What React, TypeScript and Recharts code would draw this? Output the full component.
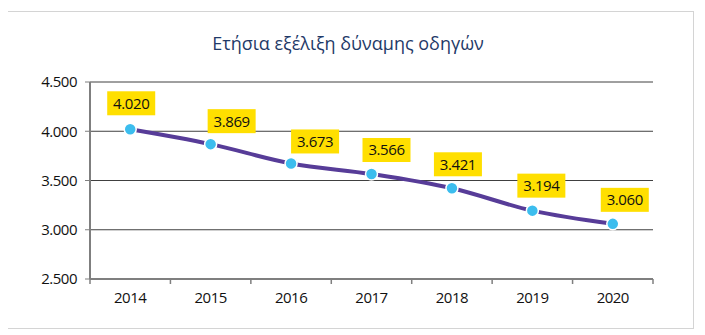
import React from 'react';
import { LineChart, Line, XAxis, YAxis, CartesianGrid, LabelList } from 'recharts';

const years = ['2014', '2015', '2016', '2017', '2018', '2019', '2020'];
const drivers = [4020, 3869, 3673, 3566, 3421, 3194, 3060];
const yTicks = [2500, 3000, 3500, 4000, 4500];

// manual label placement (horizontal shift of box centre from point, gap above point), in px
const labelDx = [1, 21, 24, 15, 6, 9, 12];
const labelGap = [14, 11, 10, 12, 12, 13, 12];

const data = years.map((y, i) => ({ year: y, value: drivers[i] }));

const fmt = (v: number) => v.toLocaleString('de-DE');

const FONT = '"Open Sans", "Noto Sans", sans-serif';

const XTick = (props: any) => {
  const { x, y, payload, index, visibleTicksCount } = props;
  const off = payload && typeof payload.offset === 'number' ? payload.offset : 0;
  const axisY = y - 8;
  return (
    <g>
      <line x1={x - off} x2={x - off} y1={axisY} y2={axisY + 5} stroke="#7f7f7f" strokeWidth={1.5} />
      {index === visibleTicksCount - 1 && (
        <line x1={x + off} x2={x + off} y1={axisY} y2={axisY + 5} stroke="#7f7f7f" strokeWidth={1.5} />
      )}
      <text
        x={x}
        y={axisY + 19}
        dy="0.35em"
        textAnchor="middle"
        fontSize={15}
        letterSpacing={-0.5}
        fill="#111"
        fontFamily={FONT}
      >
        {payload.value}
      </text>
    </g>
  );
};

const ValueLabel = (props: any) => {
  const { x, y, value, index } = props;
  const w = 48;
  const h = 24;
  const cx = x + (labelDx[index] ?? 0);
  const bottom = y - (labelGap[index] ?? 12);
  return (
    <g>
      <rect x={cx - w / 2} y={bottom - h} width={w} height={h} fill="#ffdf00" />
      <text
        x={cx}
        y={bottom - h / 2}
        dy="0.36em"
        textAnchor="middle"
        fontSize={15}
        letterSpacing={-0.4}
        fill="#111"
        fontFamily={FONT}
      >
        {fmt(value)}
      </text>
    </g>
  );
};

export default function App() {
  return (
    <div style={{ position: 'relative', width: 705, height: 335, margin: '-8px 0 0 -8px', background: '#fff' }}>
      <div
        style={{
          position: 'absolute',
          left: 6,
          top: 11,
          width: 686,
          height: 316,
          border: '1px solid #d4d4d4',
        }}
      />
      <div
        style={{
          position: 'absolute',
          left: 0,
          top: 31,
          width: 696,
          textAlign: 'center',
          fontFamily: FONT,
          fontSize: 18,
          color: '#1f3a68',
          lineHeight: '24px',
        }}
      >
        Ετήσια εξέλιξη δύναμης οδηγών
      </div>
      <div style={{ position: 'absolute', left: 0, top: 0 }}>
        <LineChart width={705} height={335} data={data} margin={{ top: 82, right: 52, bottom: 0, left: 0 }}>
          <CartesianGrid vertical={false} stroke="#404040" strokeWidth={1} />
          <XAxis
            dataKey="year"
            scale="band"
            height={56}
            axisLine={{ stroke: '#7f7f7f', strokeWidth: 2 }}
            tickLine={false}
            tick={<XTick />}
            interval={0}
          />
          <YAxis
            width={90}
            domain={[2500, 4500]}
            ticks={yTicks}
            tickFormatter={fmt}
            axisLine={{ stroke: '#7f7f7f', strokeWidth: 2 }}
            tickLine={{ stroke: '#7f7f7f' }}
            tickSize={5}
            tickMargin={8}
            tick={{ fontSize: 15, fill: '#111', fontFamily: FONT, letterSpacing: -0.5 }}
          />
          <Line
            type="monotone"
            dataKey="value"
            stroke="#573c98"
            strokeWidth={4}
            dot={{ r: 6, fill: '#3cbdee', stroke: '#ffffff', strokeWidth: 1.5 }}
            activeDot={false}
            isAnimationActive={false}
          >
            <LabelList dataKey="value" content={<ValueLabel />} />
          </Line>
        </LineChart>
      </div>
    </div>
  );
}
